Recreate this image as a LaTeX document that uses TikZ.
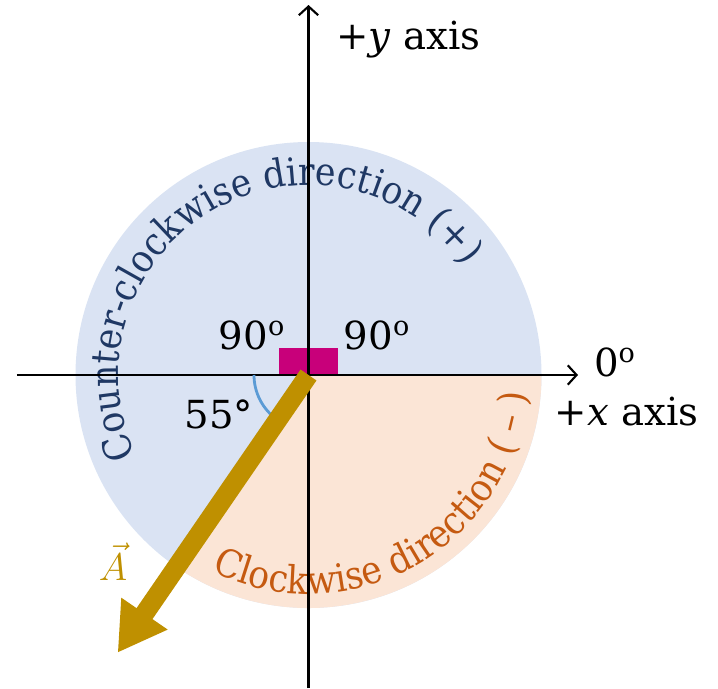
\documentclass[tikz,border=0pt]{standalone}
\usepackage{fix-cm}
\usepackage{fontspec}
\setmainfont{DejaVu Serif}
\newfontfamily\arcfont{DejaVu Serif Condensed}
\usepackage{xcolor}
\usetikzlibrary{arrows.meta, positioning, decorations.text}

\definecolor{ccwblue}{HTML}{DAE3F3}
\definecolor{cwpeach}{HTML}{FBE5D6}
\definecolor{ccwtext}{HTML}{1F3864}
\definecolor{cwtext}{HTML}{C55A11}
\definecolor{vecgold}{HTML}{BF9000}
\definecolor{rightmark}{HTML}{C8007A}
\definecolor{anglearc}{HTML}{5B9BD5}

\begin{document}
\begin{tikzpicture}[>={Straight Barb[length=5pt, width=11pt]}, line join=round,
    lbl/.style={font=\fontsize{22}{26}\selectfont, inner sep=0pt},
    sqmark/.style={fill=rightmark, minimum width=0.56cm, minimum height=0.54cm, inner sep=0pt}]

    \useasboundingbox (-6.17,-6.26) rectangle (8.19,7.5);
    \coordinate (O) at (0,0);

    % Rotation regions
    \fill[ccwblue] (O) circle (4.66);
    \fill[cwpeach] (O) -- (235:4.66) arc[start angle=235, end angle=360, radius=4.66] -- cycle;

    % Curved labels
    \path[decorate, decoration={text along path, text align=center,
        text={|\arcfont\fontsize{22}{22}\selectfont\color{ccwtext}|Counter-clockwise direction (+)}}]
        (220:3.8) arc[start angle=220, end angle=20, radius=3.8];
    \path[decorate, decoration={text along path, text align=center,
        text={|\arcfont\fontsize{22}{22}\selectfont\color{cwtext}|Clockwise direction ( – )}}]
        (199.5:4.38) arc[start angle=199.5, end angle=399.5, radius=4.38];

    % Right angle marks
    \node[sqmark, anchor=south east] (sqL) at (-0.03,0) {};
    \node[sqmark, anchor=south west] (sqR) at (0.03,0) {};

    % Axes
    \coordinate (xL) at (-5.83,0);
    \coordinate (xR) at (5.39,0);
    \coordinate (yB) at (0,-6.26);
    \coordinate (yT) at (0,7.4);
    \draw[->, line width=1.2pt] (xL) -- (xR);
    \draw[->, line width=1.2pt] (yB) -- (yT);

    % Angle arc
    \draw[anglearc, line width=1.6pt] (180:1.09) arc[start angle=180, end angle=235, radius=1.09];

    % Vector A
    \coordinate (Atip) at (235.5:6.74);
    \draw[vecgold, line width=11pt, -{Triangle[length=27pt, width=30pt]}] (O) -- (Atip);

    % Labels
    \node[lbl] (ylab) at (2.0,6.7) {+\textit{y} axis};
    \node[lbl] (zerolab) at (6.13,0.26) {0\textsuperscript{o}};
    \node[lbl] (xlab) at (6.36,-0.74) {+\textit{x} axis};
    \node[lbl] (ninetyL) at (-1.13,0.8) {90\textsuperscript{o}};
    \node[lbl] (ninetyR) at (1.37,0.8) {90\textsuperscript{o}};
    \node[lbl] (anglab) at (-1.79,-0.78) {55°};
    \node[lbl, text=vecgold] (Alab) at (-3.91,-3.74) {$\vec{A}$};

\end{tikzpicture}
\end{document}
